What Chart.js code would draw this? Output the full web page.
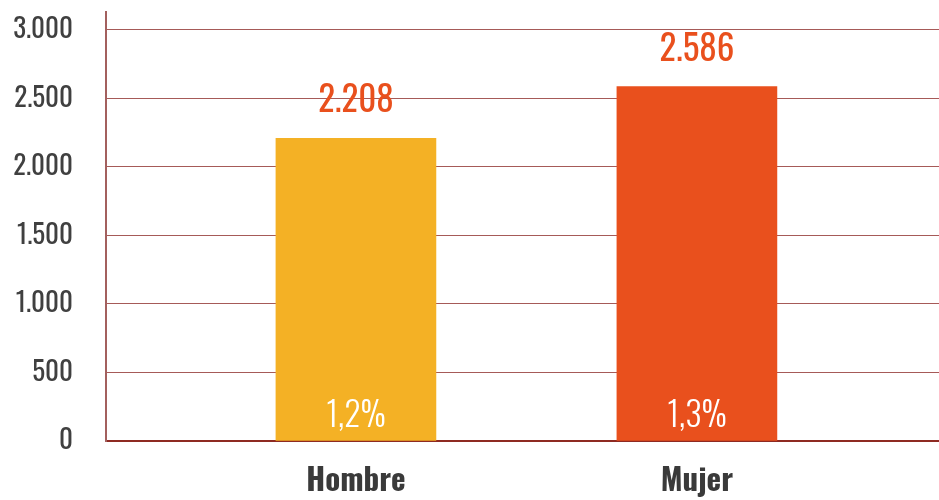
<!DOCTYPE html>
<html>
<head>
<meta charset="utf-8">
<script src="https://cdn.jsdelivr.net/npm/chart.js@4/dist/chart.umd.min.js"></script>
<style>
  html, body { margin: 0; padding: 0; background: #fff; }
  #wrap { width: 939px; height: 500px; }
</style>
</head>
<body>
<div id="wrap"><canvas id="chart"></canvas></div>
<script>
const categories = ['Hombre', 'Mujer'];
const values = [2208, 2586];
const percents = ['1,2%', '1,3%'];
const barColors = ['#F4B125', '#E9501D'];
const yTicks = [0, 500, 1000, 1500, 2000, 2500, 3000];

const FONT = 'Oswald, "Roboto Condensed", sans-serif';
const fmt = n => String(n).replace(/\B(?=(\d{3})+(?!\d))/g, '.');

// value on top and share inside each bar
const labelsPlugin = {
  id: 'barLabels',
  afterDatasetsDraw(chart) {
    const ctx = chart.ctx;
    const bars = chart.getDatasetMeta(0).data;
    const zeroY = chart.scales.y.getPixelForValue(0);
    ctx.save();
    ctx.textAlign = 'center';
    ctx.textBaseline = 'alphabetic';
    bars.forEach((bar, i) => {
      ctx.fillStyle = '#E9501D';
      ctx.font = '35px ' + FONT;
      ctx.fillText(fmt(values[i]), bar.x, bar.y - 26);
      ctx.fillStyle = '#ffffff';
      ctx.font = '300 34px ' + FONT;
      ctx.fillText(percents[i], bar.x, zeroY - 14);
    });
    ctx.restore();
  }
};

new Chart(document.getElementById('chart'), {
  type: 'bar',
  data: {
    datasets: [{
      data: categories.map((c, i) => ({ x: i + 1, y: values[i] })),
      backgroundColor: barColors,
      barThickness: 160
    }]
  },
  options: {
    responsive: true,
    maintainAspectRatio: false,
    animation: false,
    layout: { padding: { top: 12, right: 0, left: 0, bottom: 0 } },
    plugins: { legend: { display: false }, tooltip: { enabled: false } },
    scales: {
      x: {
        type: 'linear',
        offset: false,
        min: 0.267,
        max: 2.71,
        grid: { display: false, drawTicks: false },
        border: { color: '#8E2A22', width: 2 },
        afterBuildTicks: s => { s.ticks = categories.map((c, i) => ({ value: i + 1 })); },
        afterFit: s => { s.height = 59; s.paddingLeft = 0; s.paddingRight = 0; },
        ticks: {
          padding: 22,
          color: '#3A3A3A',
          font: { family: FONT, size: 31, weight: 'bold' },
          callback: v => categories[v - 1]
        }
      },
      y: {
        min: 0,
        max: 3130,
        afterBuildTicks: s => { s.ticks = yTicks.map(v => ({ value: v })); },
        afterFit: s => { s.width = 106; s.paddingTop = 0; s.paddingBottom = 0; },
        grid: { color: '#A65A58', lineWidth: 1, drawTicks: false },
        border: { color: '#A3605E', width: 2 },
        ticks: {
          padding: 33,
          color: '#404040',
          font: { family: FONT, size: 27 },
          callback: v => fmt(v)
        }
      }
    }
  },
  plugins: [labelsPlugin]
});
</script>
</body>
</html>
